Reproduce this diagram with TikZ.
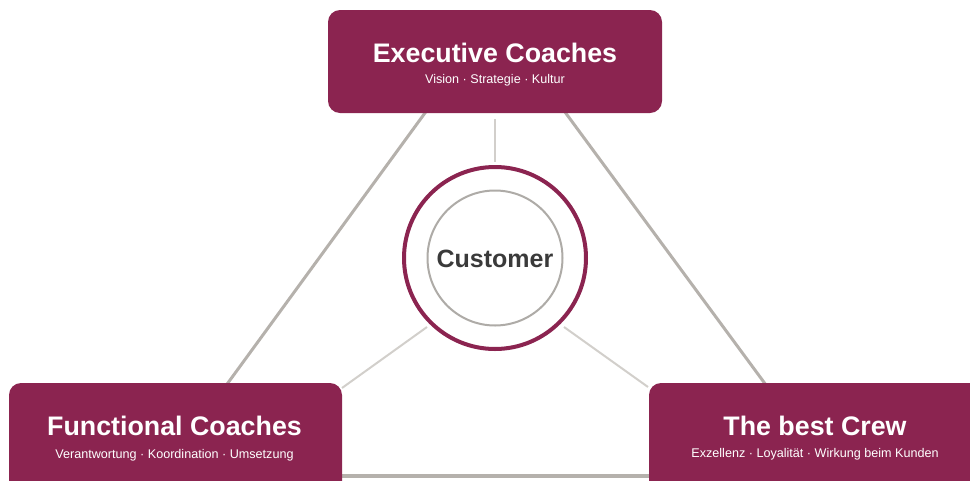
\documentclass[tikz,border=0pt]{standalone}
\usepackage{fontspec}
\setmainfont{Liberation Sans}
\definecolor{maroon}{HTML}{8B2450}
\definecolor{triline}{HTML}{B5B1AC}
\definecolor{spoke}{HTML}{D2CFCB}
\definecolor{innergray}{HTML}{AEABA7}
\definecolor{custtext}{HTML}{3A3A3A}
\tikzset{
  boxshape/.style={fill=maroon, draw=none, rounded corners=12pt},
  boxtitle/.style={text=white, font=\bfseries\fontsize{26.8}{30}\selectfont, anchor=base, inner sep=0pt},
  boxsub/.style={text=white, font=\fontsize{12.6}{15}\selectfont, anchor=base, inner sep=0pt},
  triedge/.style={draw=triline, line width=3pt},
  spokeline/.style={draw=spoke, line width=2pt},
}
\begin{document}
\begin{tikzpicture}[x=1pt,y=-1pt]
\useasboundingbox (0,0) rectangle (970,480);
\clip (0,0) rectangle (970,480);
% triangle corners
\coordinate (apex) at (495,17);
\coordinate (bl) at (160,476);
\coordinate (br) at (833,476);
\draw[triedge] (bl) -- (apex) -- (br);
\draw[triedge, line width=4pt] (bl) -- (br);
% spokes
\coordinate (s1a) at (495,119); \coordinate (s1b) at (495,162);
\coordinate (s2a) at (427,327); \coordinate (s2b) at (342,388);
\coordinate (s3a) at (564,327); \coordinate (s3b) at (648,387);
\draw[spokeline] (s1a) -- (s1b);
\draw[spokeline] (s2a) -- (s2b);
\draw[spokeline] (s3a) -- (s3b);
% boxes
\path[boxshape] (328,10) rectangle (662,113);
\path[boxshape] (9,383) rectangle (342,500);
\path[boxshape] (649,383) rectangle (990,500);
\node[boxtitle] (exect) at (495,62) {Executive Coaches};
\node[boxsub] (execs) at (495,83) {Vision · Strategie · Kultur};
\node[boxtitle] (funct) at (174.5,435) {Functional Coaches};
\node[boxsub] (funcs) at (174.5,458) {Verantwortung · Koordination · Umsetzung};
\node[boxtitle] (crewt) at (815,435) {The best Crew};
\node[boxsub] (crews) at (815,457) {Exzellenz · Loyalität · Wirkung beim Kunden};
% center circles
\node[circle, draw=maroon, line width=4pt, fill=white, minimum size=182pt, inner sep=0pt] (outer) at (495,258) {};
\node[circle, draw=innergray, line width=2pt, minimum size=135pt, inner sep=0pt] (inner) at (495,258) {};
\node[text=custtext, font=\bfseries\fontsize{25}{29}\selectfont, anchor=base, inner sep=0pt] (cust) at (495,267) {Customer};
\end{tikzpicture}
\end{document}
